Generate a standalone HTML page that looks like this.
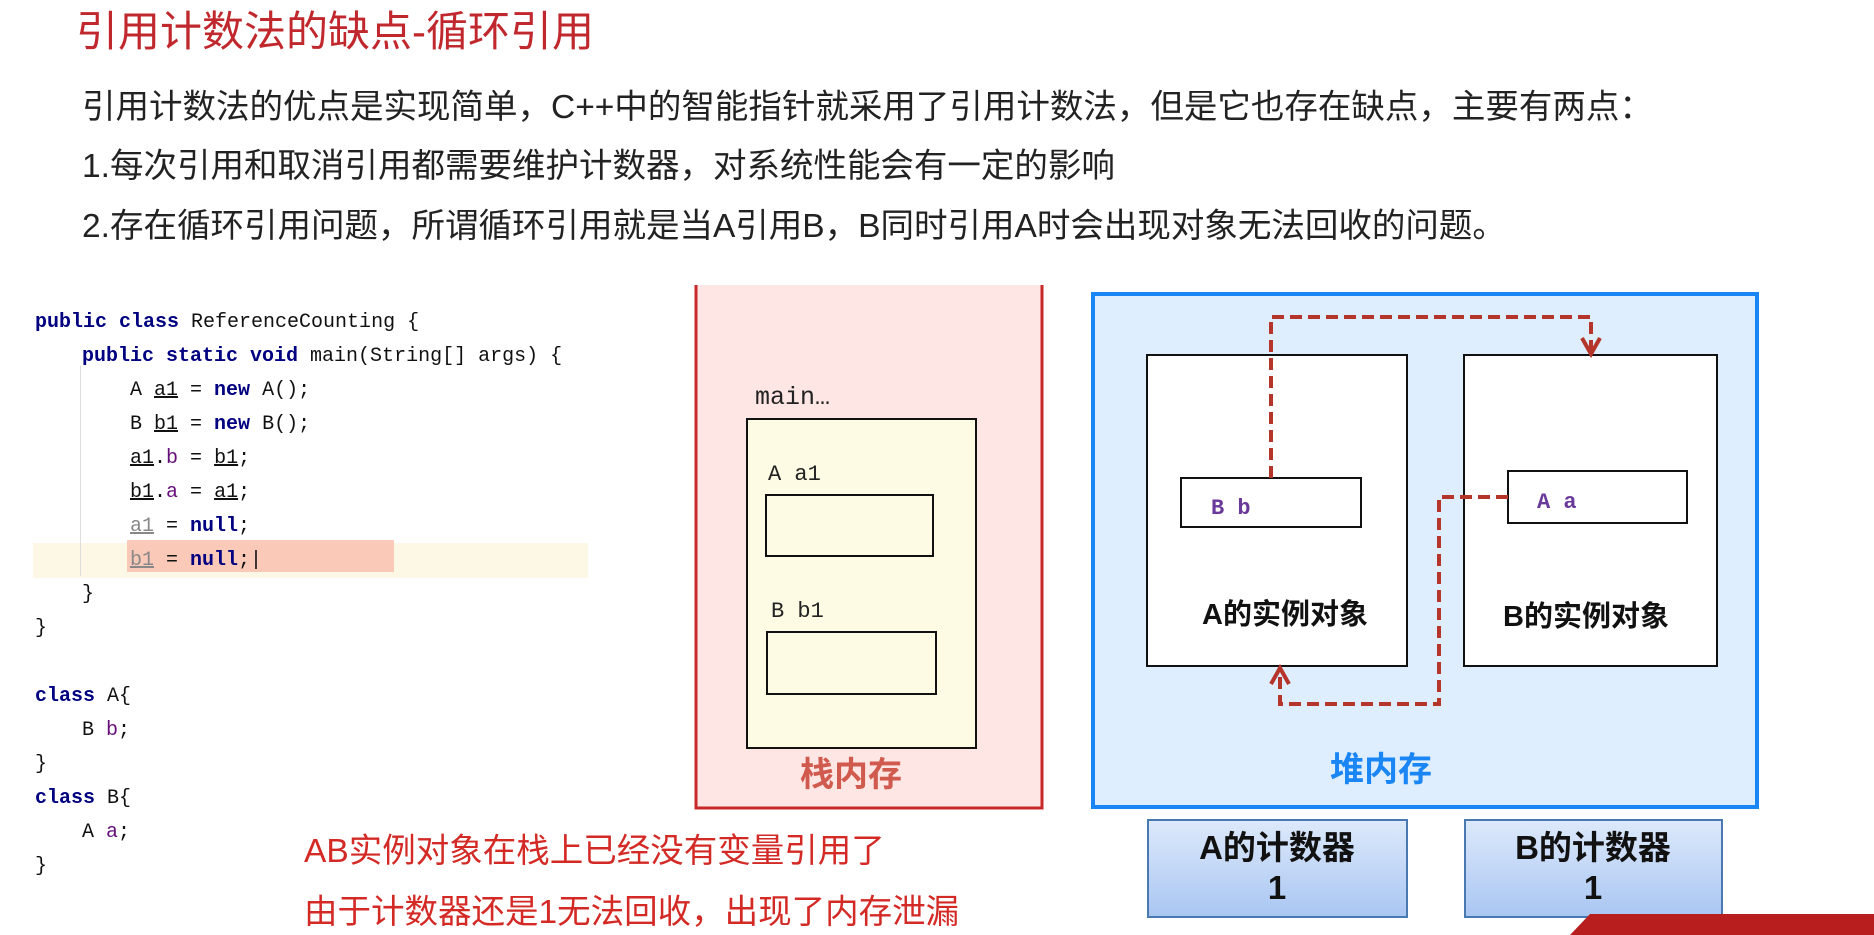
<!DOCTYPE html>
<html><head><meta charset="utf-8"><style>
html,body{margin:0;padding:0;background:#fff;}
body{width:1874px;height:935px;position:relative;overflow:hidden;font-family:"Liberation Sans","Noto Sans CJK SC",sans-serif;}
.a{position:absolute;white-space:nowrap;}
.p{font-size:33.5px;color:#222;left:82px;line-height:40px;}
.code{font-family:"Liberation Mono","DejaVu Sans Mono",monospace;font-size:20px;color:#111;line-height:24px;}
.kw{color:#000080;font-weight:bold;}
.u{text-decoration:underline;}
.f{color:#660e7a;}
</style></head><body>
<div class="a" style="left:76px;top:8px;font-size:42px;color:#c0282d;line-height:48px;">引用计数法的缺点-循环引用</div>
<div class="a p" style="top:88px;">引用计数法的优点是实现简单，C++中的智能指针就采用了引用计数法，但是它也存在缺点，主要有两点：</div>
<div class="a p" style="top:147px;">1.每次引用和取消引用都需要维护计数器，对系统性能会有一定的影响</div>
<div class="a p" style="top:207px;">2.存在循环引用问题，所谓循环引用就是当A引用B，B同时引用A时会出现对象无法回收的问题。</div>

<div class="a" style="left:33px;top:543px;width:555px;height:35px;background:#fdf8e6;"></div>
<div class="a" style="left:127px;top:540px;width:267px;height:32px;background:#fbc9b8;"></div>
<div class="a" style="left:80px;top:366px;width:1px;height:210px;background:#ddd;"></div>
<div class="code a" style="left:35px;top:311px;"><span class="kw">public class</span> ReferenceCounting {</div>
<div class="code a" style="left:82px;top:345px;"><span class="kw">public static void</span> main(String[] args) {</div>
<div class="code a" style="left:130px;top:379px;">A <span class="u">a1</span> = <span class="kw">new</span> A();</div>
<div class="code a" style="left:130px;top:413px;">B <span class="u">b1</span> = <span class="kw">new</span> B();</div>
<div class="code a" style="left:130px;top:447px;"><span class="u">a1</span>.<span class="f">b</span> = <span class="u">b1</span>;</div>
<div class="code a" style="left:130px;top:481px;"><span class="u">b1</span>.<span class="f">a</span> = <span class="u">a1</span>;</div>
<div class="code a" style="left:130px;top:515px;"><span class="u" style="color:#888">a1</span> = <span class="kw">null</span>;</div>
<div class="code a" style="left:130px;top:549px;"><span class="u" style="color:#888">b1</span> = <span class="kw">null</span>;|</div>
<div class="code a" style="left:82px;top:583px;">}</div>
<div class="code a" style="left:35px;top:617px;">}</div>
<div class="code a" style="left:35px;top:685px;"><span class="kw">class</span> A{</div>
<div class="code a" style="left:82px;top:719px;">B <span class="f">b</span>;</div>
<div class="code a" style="left:35px;top:753px;">}</div>
<div class="code a" style="left:35px;top:787px;"><span class="kw">class</span> B{</div>
<div class="code a" style="left:82px;top:821px;">A <span class="f">a</span>;</div>
<div class="code a" style="left:35px;top:855px;">}</div>

<svg class="a" style="left:0;top:0" width="1874" height="935" xmlns="http://www.w3.org/2000/svg">
<defs><linearGradient id="g" x1="0" y1="0" x2="0" y2="1"><stop offset="0" stop-color="#dde9fb"/><stop offset="1" stop-color="#a9c6f2"/></linearGradient></defs>
<rect x="695" y="285" width="348" height="524" fill="#fde6e4"/>
<path d="M696 285 V808 H1042 V285" fill="none" stroke="#c9282b" stroke-width="3"/>
<text x="755" y="404" font-family="Liberation Mono,monospace" font-size="25" fill="#222">main…</text>
<rect x="747" y="419" width="229" height="329" fill="#fdfbe4" stroke="#111" stroke-width="2"/>
<text x="768" y="480" font-family="Liberation Mono,monospace" font-size="22" fill="#222">A  a1</text>
<rect x="766" y="495" width="167" height="61" fill="#fdfbe4" stroke="#111" stroke-width="2"/>
<text x="771" y="617" font-family="Liberation Mono,monospace" font-size="22" fill="#222">B  b1</text>
<rect x="767" y="632" width="169" height="62" fill="#fdfbe4" stroke="#111" stroke-width="2"/>
<text x="851" y="786" text-anchor="middle" font-size="34" font-weight="bold" fill="#d05a4e" font-family="Liberation Sans,Noto Sans CJK SC,sans-serif">栈内存</text>

<rect x="1093" y="294" width="664" height="513" fill="#dfeefe" stroke="#1a86f5" stroke-width="4"/>
<rect x="1147" y="355" width="260" height="311" fill="#fff" stroke="#111" stroke-width="2"/>
<rect x="1464" y="355" width="253" height="311" fill="#fff" stroke="#111" stroke-width="2"/>
<rect x="1181" y="478" width="180" height="49" fill="#fff" stroke="#111" stroke-width="2"/>
<rect x="1508" y="471" width="179" height="52" fill="#fff" stroke="#111" stroke-width="2"/>
<text x="1211" y="514" font-family="Liberation Mono,monospace" font-weight="bold" font-size="22" fill="#6a3a9a">B b</text>
<text x="1537" y="508" font-family="Liberation Mono,monospace" font-weight="bold" font-size="22" fill="#6a3a9a">A a</text>
<text x="1285" y="624" text-anchor="middle" font-size="29" font-weight="bold" fill="#111" font-family="Liberation Sans,Noto Sans CJK SC,sans-serif">A的实例对象</text>
<text x="1586" y="626" text-anchor="middle" font-size="29" font-weight="bold" fill="#111" font-family="Liberation Sans,Noto Sans CJK SC,sans-serif">B的实例对象</text>
<text x="1381" y="781" text-anchor="middle" font-size="34" font-weight="bold" fill="#1a86f5" font-family="Liberation Sans,Noto Sans CJK SC,sans-serif">堆内存</text>
<g fill="none" stroke="#b5352b" stroke-width="4" stroke-dasharray="12,6">
<path d="M1271 478 V317 H1591 V350"/>
<path d="M1508 497 H1439 V704 H1280 V672"/>
</g>
<g fill="none" stroke="#b5352b" stroke-width="4">
<path d="M1582 338 L1591 354 L1600 338"/>
<path d="M1271 684 L1280 668 L1289 684"/>
</g>
<rect x="1148" y="820" width="259" height="97" fill="url(#g)" stroke="#4a78b0" stroke-width="2"/>
<rect x="1465" y="820" width="257" height="97" fill="url(#g)" stroke="#4a78b0" stroke-width="2"/>
<g font-size="33" font-weight="bold" fill="#111" text-anchor="middle" font-family="Liberation Sans,Noto Sans CJK SC,sans-serif">
<text x="1277" y="859">A的计数器</text><text x="1277" y="899">1</text>
<text x="1593" y="859">B的计数器</text><text x="1593" y="899">1</text>
</g>
<path d="M1570 935 L1590 914 H1874 V935 Z" fill="#b81e1e"/>
</svg>
<div class="a" style="left:304px;top:832px;font-size:33.5px;color:#d32a26;line-height:40px;">AB实例对象在栈上已经没有变量引用了</div>
<div class="a" style="left:304px;top:893px;font-size:33.5px;color:#d32a26;line-height:40px;">由于计数器还是1无法回收，出现了内存泄漏</div>
</body></html>
